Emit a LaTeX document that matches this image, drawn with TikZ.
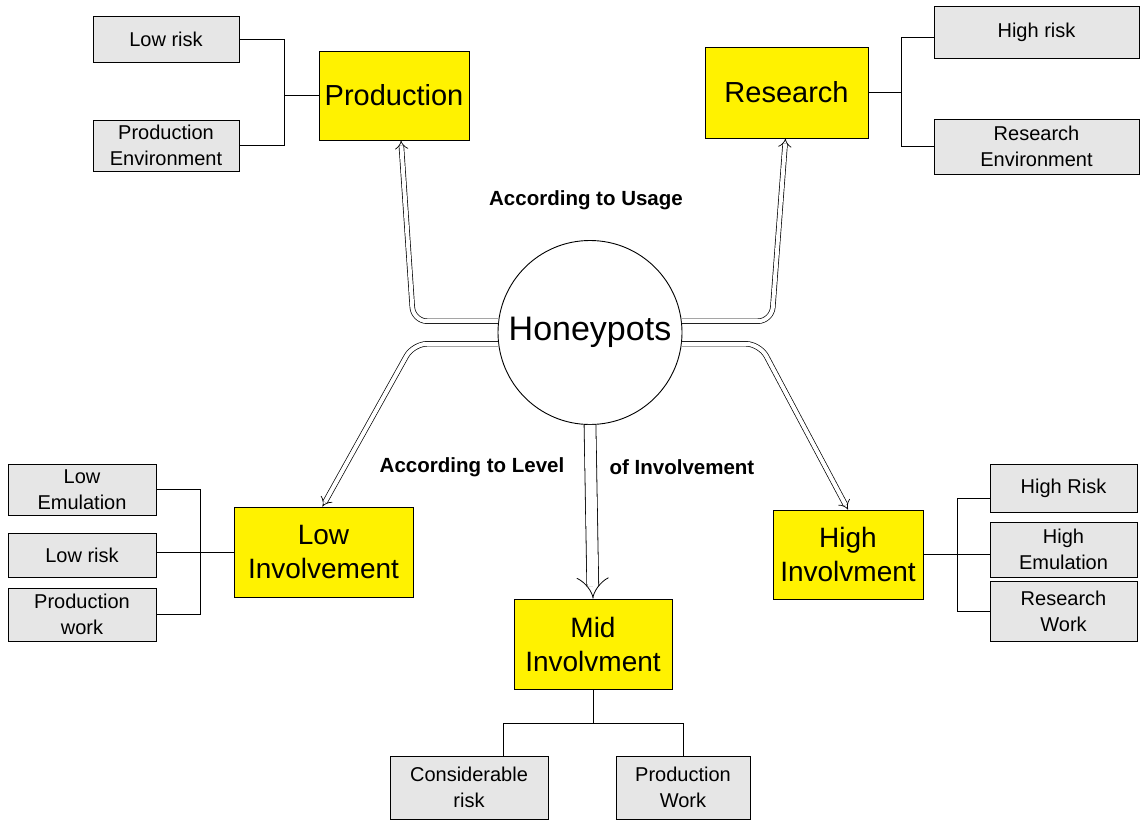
\documentclass[tikz,border=0pt]{standalone}
\usepackage{fontspec}
\setmainfont{Liberation Sans}
\usetikzlibrary{arrows.meta}
\definecolor{boxgray}{HTML}{E6E6E6}

\tikzset{
    category/.style = {
        draw,
        line width=0.9pt,
        fill=yellow,
        align=center,
        inner sep=0pt,
        font=\fontsize{28}{34}\selectfont
    },
    feature/.style = {
        draw,
        line width=0.9pt,
        fill=boxgray,
        align=center,
        inner sep=0pt,
        font=\fontsize{20}{26}\selectfont
    },
    branch/.style = {
        line width=0.9pt
    },
    usage/.style = {
        double,
        double distance=4pt,
        line width=0.7pt,
        rounded corners=14pt,
        -{Implies}
    },
    caption/.style = {
        font=\bfseries\fontsize{20.5}{24}\selectfont
    }
}

\begin{document}
\begin{tikzpicture}[x=1pt, y=-1pt]
    \useasboundingbox (0,0) rectangle (1141,821);

    % Draw the hub
    \node[circle, draw, line width=0.9pt, minimum size=184pt, inner sep=0pt,
          font=\fontsize{34}{40}\selectfont] (hp) at (590,332.5) {Honeypots};

    % Draw the kinds
    \node[category, minimum width=150pt, minimum height=89pt, font=\fontsize{29}{34}\selectfont] (prod) at (394,95.5) {Production};
    \node[category, minimum width=163pt, minimum height=91pt, font=\fontsize{29}{34}\selectfont] (res) at (786.5,92.5) {Research};
    \node[category, minimum width=179pt, minimum height=90pt] (lowinv) at (323.5,552) {Low\\Involvement};
    \node[category, minimum width=150pt, minimum height=89pt] (highinv) at (848,554.5) {High\\Involvment};
    \node[category, minimum width=158pt, minimum height=90pt] (midinv) at (593,644) {Mid\\Involvment};

    % Draw the features
    \node[feature, minimum width=146pt, minimum height=46pt] (prodrisk) at (166,39) {Low risk};
    \node[feature, minimum width=146pt, minimum height=51pt] (prodenv) at (166,145.5) {Production\\Environment};
    \node[feature, minimum width=205pt, minimum height=52pt] (resrisk) at (1036.5,32) {High risk};
    \node[feature, minimum width=205pt, minimum height=55pt] (resenv) at (1036.5,146.5) {Research\\Environment};
    \node[feature, minimum width=148pt, minimum height=51pt] (lowemu) at (82,489.5) {Low\\Emulation};
    \node[feature, minimum width=148pt, minimum height=44pt] (lowrisk) at (82,555) {Low risk};
    \node[feature, minimum width=148pt, minimum height=53pt] (lowwork) at (82,614.5) {Production\\work};
    \node[feature, minimum width=147pt, minimum height=48pt] (highrisk) at (1063.5,488) {High Risk};
    \node[feature, minimum width=147pt, minimum height=55pt] (highemu) at (1063.5,549.5) {High\\Emulation};
    \node[feature, minimum width=147pt, minimum height=60pt] (highwork) at (1063.5,611) {Research\\Work};
    \node[feature, minimum width=158pt, minimum height=63pt] (midrisk) at (469,787.5) {Considerable\\risk};
    \node[feature, minimum width=134pt, minimum height=63pt] (midwork) at (683,787.5) {Production\\Work};

    % Draw brackets
    \coordinate (pbx) at (284,0);
    \coordinate (rbx) at (901,0);
    \coordinate (lbx) at (200,0);
    \coordinate (hbx) at (957,0);
    \coordinate (mby) at (0,723);
    \draw[branch] (prodrisk.east) -| (pbx |- prodenv.east) -- (prodenv.east);
    \draw[branch] (prod.west) -- (prod.west -| pbx);
    \draw[branch] ([yshift=-5pt]resrisk.west) -| (rbx |- resenv.west) -- (resenv.west);
    \draw[branch] (res.east) -- (res.east -| rbx);
    \draw[branch] (lowemu.east) -| (lbx |- lowwork.east) -- (lowwork.east);
    \draw[branch] (lowinv.west) -- (lowinv.west -| lowrisk.east);
    \draw[branch] ([yshift=-10pt]highrisk.west) -| (hbx |- highwork.west) -- (highwork.west);
    \draw[branch] (highinv.east) -- (highinv.east -| highemu.west);
    \draw[branch] (midinv.south) -- (midinv.south |- mby);
    \draw[branch] ([xshift=34pt]midrisk.north) |- (midwork.north |- mby) -- (midwork.north);

    % Draw arrows
    \draw[usage] (hp.173) -- ++(-85,0) -- ([xshift=7pt]prod.south);
    \draw[usage] (hp.7) -- ++(90,0) -- ([xshift=-1pt]res.south);
    \draw[usage] (hp.187) -- ++(-85,0) -- ([xshift=-1pt]lowinv.north);
    \draw[usage] (hp.353) -- ++(78,0) -- (highinv.north);
    \draw[usage, double distance=11pt, line width=0.8pt] (hp.south) -- (midinv.north);

    % Draw captions
    \node[caption] (bytype) at (586,200) {According to Usage};
    \node[caption] (bylevel) at (472,467) {According to Level};
    \node[caption] (byinv) at (682,467) {of Involvement};
\end{tikzpicture}
\end{document}
